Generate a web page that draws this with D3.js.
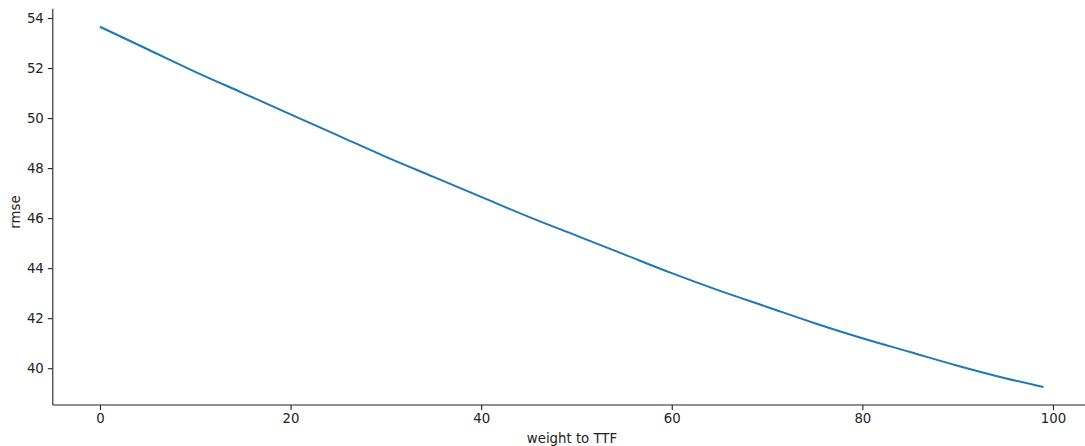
<!DOCTYPE html>
<html>
<head>
<meta charset="utf-8">
<script src="https://cdn.jsdelivr.net/npm/d3@7"></script>
<style>
  body { margin: 0; background: #fff; }
  text { font-family: "DejaVu Sans", sans-serif; fill: #222; }
</style>
</head>
<body>
<div id="chart"></div>
<script>
// weight given to TTF vs resulting rmse
var weights = [0, 5, 10, 15, 20, 25, 30, 35, 40, 45, 50, 55, 60, 65, 70, 75, 80, 85, 90, 95, 99];
var rmse    = [53.65, 52.75, 51.85, 51.0, 50.15, 49.3, 48.45, 47.65, 46.85, 46.05, 45.3,
               44.55, 43.8, 43.1, 42.45, 41.8, 41.2, 40.65, 40.1, 39.6, 39.25];
var xTicks = [0, 20, 40, 60, 80, 100];
var yTicks = [40, 42, 44, 46, 48, 50, 52, 54];

var W = 1085, H = 446;
var svg = d3.select('#chart').append('svg')
  .attr('width', W).attr('height', H);

// matplotlib-like 5% margins around the data
var x = d3.scaleLinear().domain([-4.95, 103.95]).range([52.8, 1090.6]);
var y = d3.scaleLinear().domain([38.53, 54.37]).range([405, 8.75]);

var xAxis = d3.axisBottom(x).tickValues(xTicks).tickSize(5).tickPadding(4);
var yAxis = d3.axisLeft(y).tickValues(yTicks).tickSize(5).tickPadding(4);

var gx = svg.append('g').attr('transform', 'translate(0,405)').call(xAxis);
var gy = svg.append('g').attr('transform', 'translate(52.8,0)').call(yAxis);

// plain spines, no end caps (top/right spines removed)
gx.select('.domain').attr('d', 'M52.8,0H1090.6');
gy.select('.domain').attr('d', 'M0,405V8.75');

[gx, gy].forEach(function(g) {
  g.select('.domain').attr('stroke', '#222').attr('stroke-width', 1.1);
  g.selectAll('.tick line').attr('stroke', '#222').attr('stroke-width', 1.1);
  g.selectAll('.tick text').style('font-size', '13.3px').attr('fill', '#222');
});

var pts = weights.map(function(w, i) { return [w, rmse[i]]; });
var line = d3.line()
  .x(function(d) { return x(d[0]); })
  .y(function(d) { return y(d[1]); })
  .curve(d3.curveMonotoneX);

svg.append('path')
  .datum(pts)
  .attr('d', line)
  .attr('fill', 'none')
  .attr('stroke', '#1f77b4')
  .attr('stroke-width', 2);

svg.append('text')
  .attr('x', 572).attr('y', 443)
  .attr('text-anchor', 'middle')
  .style('font-size', '13.3px')
  .text('weight to TTF');

svg.append('text')
  .attr('transform', 'translate(20,212) rotate(-90)')
  .attr('text-anchor', 'middle')
  .style('font-size', '13.3px')
  .text('rmse');
</script>
</body>
</html>
